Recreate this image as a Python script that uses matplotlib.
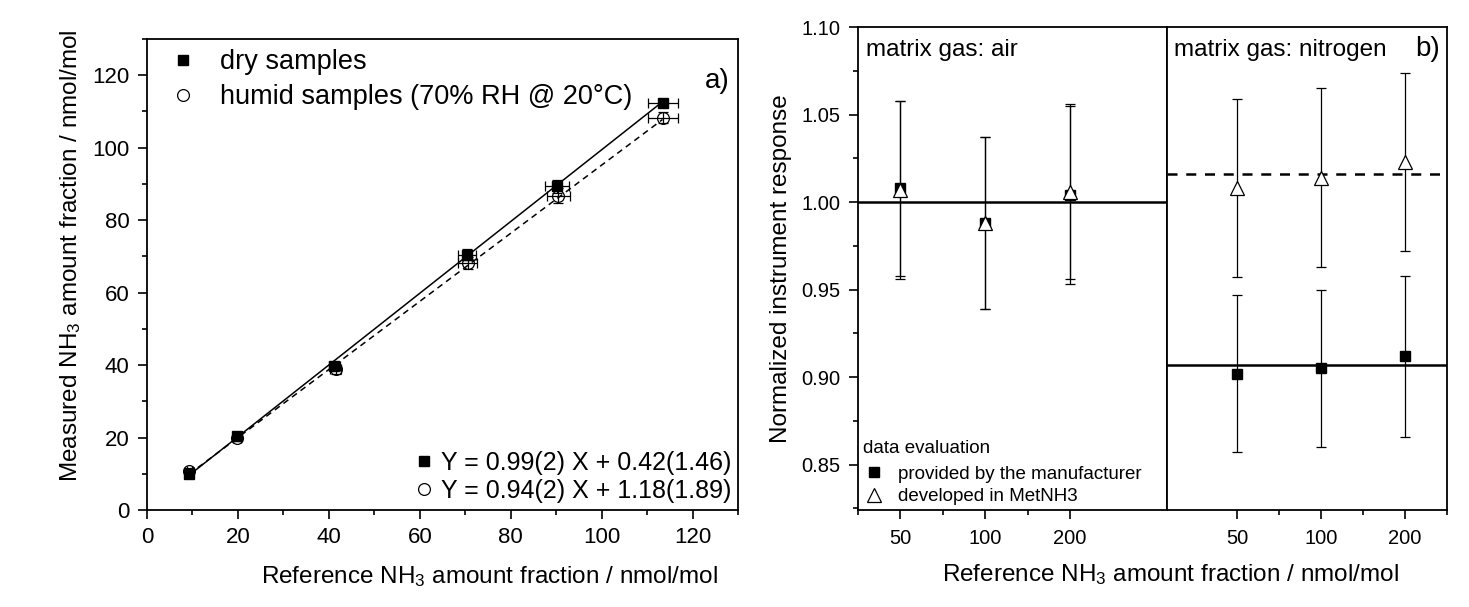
# NH3 analyser: linearity (a) and matrix-gas response (b)
import matplotlib.pyplot as plt
from matplotlib.lines import Line2D
from matplotlib.ticker import FixedLocator, NullFormatter

plt.rcParams['font.family'] = ['Liberation Sans', 'DejaVu Sans']
plt.rcParams['mathtext.default'] = 'regular'

# panel a) reference vs measured amount fraction
ref_dry = [9.3, 19.8, 41.2, 70.3, 90.2, 113.4]
meas_dry = [9.8, 20.3, 39.8, 70.5, 89.3, 112.3]
ref_hum = [9.3, 19.8, 41.5, 70.5, 90.5, 113.4]
meas_hum = [10.8, 19.8, 38.8, 68.2, 86.8, 108.3]
xerr_a = [0.6, 0.8, 1.2, 2.0, 2.6, 3.3]
yerr_dry = [0.8, 0.8, 1.0, 1.5, 1.8, 1.2]
yerr_hum = [0.8, 0.8, 1.2, 1.6, 2.0, 1.5]
fit_dry = (0.99, 0.42)
fit_hum = (0.94, 1.18)

# panel b) normalized response
conc = [50, 100, 200]
air_manuf = [1.008, 0.988, 1.004]
air_manuf_err = [0.050, 0.049, 0.051]
air_met = [1.007, 0.988, 1.006]
air_met_err = [0.051, 0.049, 0.050]
n2_manuf = [0.902, 0.905, 0.912]
n2_manuf_err = [0.045, 0.045, 0.046]
n2_met = [1.008, 1.014, 1.023]
n2_met_err = [0.051, 0.051, 0.051]
air_level = 1.000
n2_manuf_level = 0.907
n2_met_level = 1.016

W, H = 1469, 607
fig = plt.figure(figsize=(W / 100, H / 100), dpi=100)

def box(x0, y0, x1, y1):
    return [x0 / W, 1 - y1 / H, (x1 - x0) / W, (y1 - y0) / H]

# ---------------- panel a ----------------
ax = fig.add_axes(box(147, 39, 738, 510))
x_line = [min(ref_dry), max(ref_dry)]
ax.plot(x_line, [fit_dry[0] * v + fit_dry[1] for v in x_line], 'k-', lw=1.1)
ax.plot(x_line, [fit_hum[0] * v + fit_hum[1] for v in x_line], color='k', lw=1.1, ls=(0, (4, 3)))
ax.errorbar(ref_dry, meas_dry, xerr=xerr_a, yerr=yerr_dry, fmt='s', color='k', ms=7.5,
            elinewidth=0.9, capsize=3.5, capthick=0.9)
ax.errorbar(ref_hum, meas_hum, xerr=xerr_a, yerr=yerr_hum, fmt='o', color='k', mfc='none', ms=8.5,
            mew=0.9, elinewidth=0.9, capsize=3.5, capthick=0.9)
ax.set_xlim(0, 130)
ax.set_ylim(0, 130)
ax.set_xticks(range(0, 121, 20))
ax.set_yticks(range(0, 121, 20))
ax.xaxis.set_minor_locator(FixedLocator(range(10, 131, 20)))
ax.yaxis.set_minor_locator(FixedLocator(range(10, 131, 20)))
ax.tick_params(which='major', direction='out', length=6.5, width=1.2, labelsize=16, pad=6)
ax.tick_params(which='minor', direction='out', length=3.5, width=1.2)
for s in ax.spines.values():
    s.set_linewidth(1.3)
ax.set_xlabel('Reference NH$_3$ amount fraction / nmol/mol', fontsize=17.5)
ax.xaxis.set_label_coords(0.579, -0.115)
ax.set_ylabel('Measured NH$_3$ amount fraction / nmol/mol', fontsize=17.5)
ax.yaxis.set_label_coords(-0.108, 0.54)

h_dry = Line2D([], [], marker='s', color='k', ls='none', ms=7.5)
h_hum = Line2D([], [], marker='o', color='k', mfc='none', ls='none', ms=8.5, mew=0.9)
leg1 = ax.legend([h_dry, h_hum], ['dry samples', 'humid samples (70% RH @ 20°C)'],
                 loc='upper left', bbox_to_anchor=(0.038, 0.978), frameon=False, fontsize=19.5,
                 handlelength=1.0, handletextpad=0.85, borderaxespad=0, borderpad=0,
                 labelspacing=0.33)
ax.add_artist(leg1)
ax.legend([h_dry, h_hum], ['Y = 0.99(2) X + 0.42(1.46)', 'Y = 0.94(2) X + 1.18(1.89)'],
          loc='lower right', bbox_to_anchor=(0.988, 0.015), frameon=False, fontsize=18,
          handlelength=0.6, handletextpad=0.35, borderaxespad=0, borderpad=0,
          labelspacing=0.15)
ax.text(0.985, 0.91, 'a)', transform=ax.transAxes, ha='right', va='center', fontsize=20)

# ---------------- panel b ----------------
axL = fig.add_axes(box(858, 27, 1167, 510))
axR = fig.add_axes(box(1167, 27, 1447, 510), sharey=axL)

ekw = dict(color='k', elinewidth=0.9, capsize=3.3, capthick=0.9)
axL.axhline(air_level, color='k', lw=1.8)
axL.errorbar(conc, air_manuf, yerr=air_manuf_err, fmt='s', ms=7, **ekw)
axL.errorbar(conc, air_met, yerr=air_met_err, fmt='^', ms=10, mfc='white', mew=0.9, **ekw)

axR.axhline(n2_manuf_level, color='k', lw=1.8)
axR.axhline(n2_met_level, color='k', lw=1.8, ls=(0, (4, 3.5)))
axR.errorbar(conc, n2_manuf, yerr=n2_manuf_err, fmt='s', ms=7, **ekw)
axR.errorbar(conc, n2_met, yerr=n2_met_err, fmt='^', ms=10, mfc='white', mew=0.9, **ekw)

axL.set_xscale('log')
axR.set_xscale('log')
axL.set_xlim(35.35, 441)
axR.set_xlim(28.0, 283)
for a, minors in ((axL, [35.36, 70.7, 141.4]), (axR, [70.7, 141.4, 282.8])):
    a.xaxis.set_major_locator(FixedLocator(conc))
    a.set_xticklabels([str(c) for c in conc])
    a.xaxis.set_minor_locator(FixedLocator(minors))
    a.xaxis.set_minor_formatter(NullFormatter())
    a.tick_params(which='major', direction='out', length=6.5, width=1.2, labelsize=14.5, pad=7)
    a.tick_params(which='minor', direction='out', length=3.5, width=1.2)
    for s in a.spines.values():
        s.set_linewidth(1.3)

axL.set_ylim(0.824, 1.10)
axL.set_yticks([0.85, 0.90, 0.95, 1.00, 1.05, 1.10])
axL.set_yticklabels(['%.2f' % v for v in [0.85, 0.90, 0.95, 1.00, 1.05, 1.10]])
axL.yaxis.set_minor_locator(FixedLocator([0.825, 0.875, 0.925, 0.975, 1.025, 1.075]))
axL.tick_params(axis='y', which='major', pad=6)
axR.tick_params(axis='y', which='both', left=False, labelleft=False)
axL.set_ylabel('Normalized instrument response', fontsize=17.5)
axL.yaxis.set_label_coords(-0.215, 0.5)

axL.text(0.025, 0.975, 'matrix gas: air', transform=axL.transAxes, ha='left', va='top', fontsize=17.5)
axR.text(0.025, 0.975, 'matrix gas: nitrogen', transform=axR.transAxes, ha='left', va='top', fontsize=17.5)
axR.text(0.975, 0.955, 'b)', transform=axR.transAxes, ha='right', va='center', fontsize=20)

h_man = Line2D([], [], marker='s', color='k', ls='none', ms=7)
h_met = Line2D([], [], marker='^', color='k', mfc='white', ls='none', ms=10, mew=0.9)
legb = axL.legend([h_man, h_met], ['provided by the manufacturer', 'developed in MetNH3'],
                  title='data evaluation', loc='lower left', frameon=False, fontsize=13.5,
                  title_fontsize=13.5, alignment='left', handlelength=1.2, handletextpad=0.7,
                  borderaxespad=0.1, borderpad=0.15, labelspacing=0.3)
legb._legend_box.sep = 6

fig.text(1170 / W, 1 - 575 / H, 'Reference NH$_3$ amount fraction / nmol/mol',
         ha='center', va='center', fontsize=17.5)

fig.savefig('out.png', dpi=100)
